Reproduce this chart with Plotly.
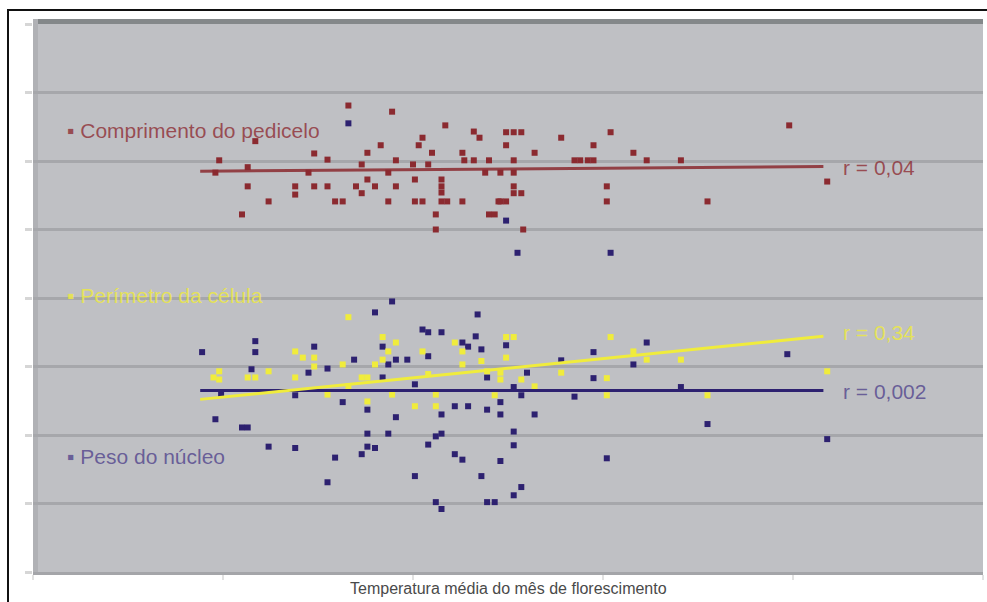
import plotly.graph_objects as go

# ---- data -------------------------------------------------------------
red_x = [16.6, 18.9, 21.7, 23.2, 23.5, 11.7, 20.5, 20.3, 18.3, 17.6, 14.8, 15.5, 9.8, 17.3,
         19.1, 20.0, 21.0, 20.8, 22.6, 22.7, 23.2, 24.0, 11.3, 9.6, 14.5, 18.7, 23.8, 17.6,
         20.1, 21.5, 11.3, 13.8, 13.8, 14.8, 15.5, 17.0, 17.3, 18.0, 19.1, 21.5, 12.4, 15.9,
         16.3, 18.7, 20.1, 20.5, 21.5, 21.8, 22.6, 24.5, 11.0, 21.2, 24.0, 24.3, 21.2, 21.5,
         24.9, 25.3, 25.7, 27.8, 30.4, 24.9, 29.5, 26.4, 31.6, 25.3, 28.5, 28.8, 29.2, 29.5,
         32.3, 34.1, 39.8, 24.6, 25.3, 25.3, 25.7, 25.3, 24.6, 24.9, 30.2, 30.2, 35.5, 41.8,
         25.8]
red_y = [68.1, 67.2, 65.2, 64.3, 63.4, 62.9, 63.4, 62.3, 62.3, 61.2, 61.1, 60.2, 60.1, 59.5,
         60.1, 59.5, 61.2, 59.5, 61.2, 60.1, 60.1, 60.1, 59.1, 58.3, 58.3, 58.3, 58.3, 57.3,
         57.3, 57.3, 56.3, 56.3, 55.1, 56.3, 56.3, 56.3, 55.3, 56.3, 56.3, 56.3, 54.1, 54.1,
         54.1, 54.1, 54.1, 54.1, 54.1, 54.1, 54.1, 54.1, 52.2, 52.2, 52.2, 52.2, 50.0, 55.4,
         64.2, 64.2, 64.2, 63.4, 64.2, 62.3, 62.3, 61.2, 61.2, 60.1, 60.1, 60.1, 60.1, 60.1,
         60.1, 60.1, 65.2, 58.3, 58.3, 56.3, 55.3, 55.3, 54.1, 54.1, 56.3, 54.1, 54.1, 57.0,
         50.0]

blue_x = [16.6, 24.9, 25.5, 30.4, 18.9, 18.0, 23.4, 20.5, 20.8, 21.5, 23.3, 11.7, 8.9, 11.7,
          14.8, 18.4, 22.9, 23.6, 22.6, 16.9, 19.1, 19.7, 20.8, 15.5, 14.5, 11.5, 18.7, 18.4,
          23.9, 20.1, 13.8, 9.9, 16.3, 17.6, 22.2, 22.9, 23.9, 19.1, 21.5, 9.6, 11.0, 11.3,
          17.6, 18.7, 21.2, 21.5, 20.8, 12.4, 13.8, 17.6, 18.0, 17.3, 15.9, 22.2, 22.6, 20.1,
          23.6, 15.5, 21.2, 21.5, 23.9, 24.9, 32.3, 29.5, 27.8, 31.6, 26.0, 29.5, 39.7, 25.3,
          34.1, 25.7, 24.6, 28.5, 24.6, 26.4, 35.5, 25.3, 41.8, 25.3, 24.6, 30.2, 25.7, 25.3,
          24.3]
blue_y = [65.5, 51.3, 46.6, 46.6, 39.5, 37.9, 37.6, 35.4, 35.0, 35.0, 34.4, 33.7, 32.1, 32.1,
          32.9, 32.9, 32.9, 32.5, 33.5, 31.0, 31.0, 31.0, 31.5, 29.7, 29.1, 29.6, 30.3, 28.4,
          28.4, 27.4, 25.8, 25.9, 24.8, 23.7, 24.2, 24.2, 23.7, 22.6, 23.0, 22.3, 21.1, 21.1,
          20.2, 20.2, 19.8, 20.2, 18.6, 18.3, 18.1, 18.3, 18.1, 17.2, 16.7, 17.2, 16.4, 14.0,
          14.0, 13.1, 10.2, 9.2, 10.2, 33.1, 33.5, 32.1, 30.9, 30.3, 29.1, 28.3, 31.8, 27.0,
          27.0, 25.8, 24.8, 25.6, 23.0, 23.0, 21.6, 20.5, 19.4, 18.5, 16.2, 16.6, 12.4, 11.2,
          10.2]

yellow_x = [16.6, 18.4, 19.1, 12.4, 9.8, 9.8, 11.3, 11.7, 13.8, 14.2, 14.8, 14.8, 13.8, 16.3,
            18.0, 18.4, 18.7, 17.3, 17.6, 17.6, 20.5, 20.1, 21.2, 20.8, 22.2, 22.6, 22.6, 23.6,
            23.9, 21.2, 18.9, 15.5, 16.6, 24.9, 25.3, 30.4, 24.9, 27.8, 24.6, 24.6, 25.7, 26.4,
            30.2, 30.2, 31.6, 32.3, 34.1, 35.5, 41.8, 24.3, 9.5]
yellow_y = [37.2, 34.3, 33.5, 29.3, 29.3, 28.1, 28.4, 28.4, 32.2, 31.3, 31.3, 30.0, 28.4, 30.3,
            30.3, 31.0, 32.2, 28.4, 28.4, 24.9, 32.2, 24.2, 24.2, 28.9, 33.5, 32.2, 30.3, 30.8,
            29.3, 25.9, 25.9, 25.9, 27.1, 34.3, 34.3, 34.3, 31.3, 29.1, 29.1, 28.1, 28.1, 27.1,
            28.3, 25.8, 32.2, 31.0, 31.0, 25.8, 29.3, 25.8, 28.4]

# fitted trend lines (end points)
trend_x = [8.8, 41.6]
red_fit = [58.5, 59.2]
yellow_fit = [25.2, 34.4]
blue_fit = [26.5, 26.5]

series_names = ["Comprimento do pedicelo", "Perímetro da célula", "Peso do núcleo"]
r_labels = ["r = 0,04", "r = 0,34", "r = 0,002"]
x_title = "Temperatura média do mês de florescimento"

RED = "#8b2a30"
BLUE = "#2d2170"
YELLOW = "#f0ec3c"

fig = go.Figure()

def pts(x, y, color, name):
    fig.add_trace(go.Scatter(x=x, y=y, mode="markers", name=name,
                             marker=dict(symbol="square", size=6, color=color,
                                         line=dict(width=0))))

pts(blue_x, blue_y, BLUE, series_names[2])
pts(yellow_x, yellow_y, YELLOW, series_names[1])
pts(red_x, red_y, RED, series_names[0])

for fit, color, op in [(blue_fit, BLUE, 1.0), (yellow_fit, YELLOW, 1.0), (red_fit, RED, 0.85)]:
    fig.add_trace(go.Scatter(x=trend_x, y=fit, mode="lines", opacity=op,
                             line=dict(color=color, width=3), hoverinfo="skip"))

W, H = 987, 602
L, R, T, B = 33, 4, 24, 30
pw, ph = W - L - R, H - T - B

def px(xp):
    return (xp - L) / pw

def py(yp):
    return (H - B - yp) / ph

shapes = [
    # darker wall strip along the top and left edge of the plot area
    dict(type="rect", xref="paper", yref="paper", x0=0, x1=1, y0=py(24), y1=py(19),
         fillcolor="#84888a", line=dict(width=0), layer="below"),
    dict(type="rect", xref="paper", yref="paper", x0=0, x1=px(38), y0=0, y1=py(19),
         fillcolor="#b0b1b5", line=dict(width=0), layer="below"),
    # outer frame
    dict(type="line", xref="paper", yref="paper", x0=px(8), x1=px(990), y0=py(10), y1=py(10),
         line=dict(color="#111111", width=2)),
    dict(type="line", xref="paper", yref="paper", x0=px(8), x1=px(8), y0=py(9), y1=py(610),
         line=dict(color="#111111", width=2)),
]

font_family = "Liberation Sans, Arial, sans-serif"
label_colors = ["rgba(139,38,45,0.75)", "rgba(236,232,70,0.85)", "rgba(60,45,130,0.68)"]
label_y = [64.4, 40.4, 16.8]
r_y = [59.0, 35.0, 26.3]

annotations = []
for name, col, yv in zip(series_names, label_colors, label_y):
    annotations.append(dict(x=1.7, y=yv, xref="x", yref="y", text="▪ " + name,
                            showarrow=False, xanchor="left", yanchor="middle",
                            font=dict(family=font_family, size=21, color=col)))
for lab, col, yv in zip(r_labels, label_colors, r_y):
    annotations.append(dict(x=42.5, y=yv, xref="x", yref="y", text=lab,
                            showarrow=False, xanchor="left", yanchor="middle",
                            font=dict(family=font_family, size=21, color=col)))
annotations.append(dict(x=0.5, y=py(588), xref="paper", yref="paper", text=x_title,
                        showarrow=False, xanchor="center", yanchor="middle",
                        font=dict(family=font_family, size=16, color="#4a4a4a")))

fig.update_layout(
    width=W, height=H,
    margin=dict(l=L, r=R, t=T, b=B, pad=0),
    paper_bgcolor="white",
    plot_bgcolor="#bfc0c4",
    showlegend=False,
    shapes=shapes,
    annotations=annotations,
    xaxis=dict(range=[0, 50], dtick=10, showgrid=False, zeroline=False,
               showticklabels=False, ticks="outside", ticklen=5, tickwidth=2,
               tickcolor="#e2e2e2", showline=True, linecolor="#a4a5a9", linewidth=3),
    yaxis=dict(range=[0, 80], dtick=10, showgrid=True, gridcolor="#a6a7ab", gridwidth=3,
               zeroline=False, showticklabels=False, ticks="outside", ticklen=7,
               tickwidth=3, tickcolor="#d6d6d6", showline=False),
)

fig.write_html("out.html", config={"displayModeBar": False})
